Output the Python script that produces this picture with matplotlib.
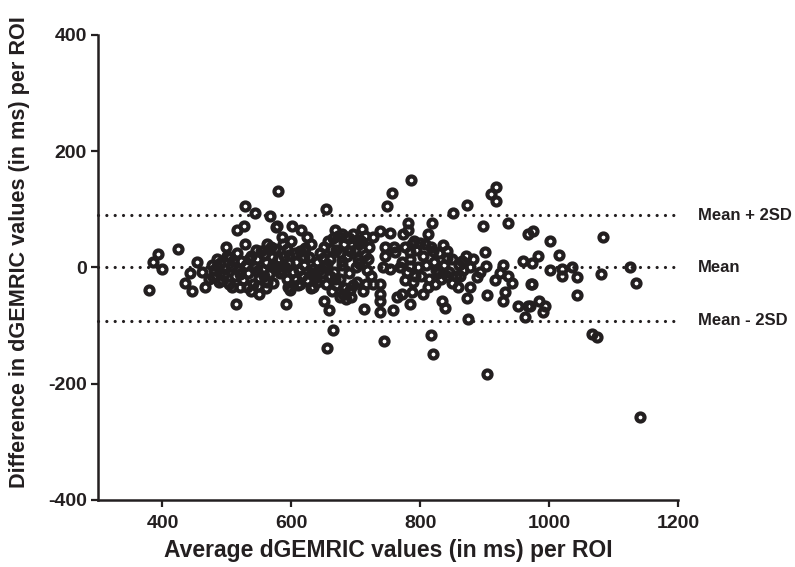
import matplotlib
matplotlib.use("Agg")
import matplotlib.pyplot as plt

plt.rcParams['font.family'] = ['Liberation Sans', 'DejaVu Sans']
plt.rcParams['font.weight'] = 'bold'
plt.rcParams['axes.unicode_minus'] = False

# isolated points (average, difference)
sparse_avg = [528, 544, 567, 516, 527, 393, 385, 399, 424, 379, 454, 443, 461, 435, 446, 466, 478, 477, 485, 499,
              528, 562, 576, 514, 550, 508, 520, 531, 579,
              756, 748, 654, 578, 601, 586, 615, 624, 668, 710, 727, 738, 753, 685, 702, 662, 575, 593, 621, 745,
              759, 745, 761, 649, 719, 742, 753, 769, 634, 634, 595, 613, 572, 727, 738, 738, 738, 738, 758, 764,
              592, 651, 658, 713, 665, 655, 744, 676, 691,
              786, 918, 910, 918, 873, 851, 781, 781, 773, 818, 897, 936, 967, 812, 787, 807, 835, 901, 784, 820,
              842, 865, 882, 902, 929, 960, 974, 784, 792, 776, 772, 787, 784, 804, 812, 823, 828, 842, 849, 859,
              862, 877, 873, 888, 893, 916, 924, 936, 942, 932, 929, 904, 972, 834, 839, 874, 952, 967, 963, 817,
              820, 904,
              975, 1001, 1084, 983, 1015, 1001, 1020, 1036, 1126, 1020, 1043, 1081, 1135, 973, 1043, 970, 984, 994,
              990, 1067, 1074, 1141]
sparse_diff = [105, 93, 88, 64, 71, 24, 10, -3, 31, -38, 9, -10, -7, -26, -41, -33, -17, 5, 14, 36,
               41, 40, 69, -62, -46, -33, -34, -33, 132,
               129, 105, 100, 71, 71, 52, 64, 53, 64, 67, 53, 62, 60, 52, 48, 31, 31, 31, 34, 36,
               36, 19, 26, 17, 14, 0, -2, 0, -9, -33, -33, -29, -26, -29, -29, -46, -58, -76, -74, -50,
               -62, -58, -74, -71, -107, -139, -126, -50, -38,
               150, 139, 127, 115, 107, 93, 76, 65, 57, 77, 71, 77, 57, 57, 41, 40, 38, 26, 26, 28,
               17, 12, 14, 3, 5, 12, 7, 2, -15, -21, -46, -43, -62, -45, -33, -29, -10, -15, -26, -33,
               -15, -34, -52, -17, -7, -21, -9, -15, -26, -43, -58, -48, -29, -58, -69, -88, -67, -67, -86, -117,
               -148, -184,
               62, 45, 52, 19, 22, -5, -2, 0, 0, -15, -17, -12, -26, -29, -48, -67, -58, -67,
               -76, -114, -120, -258]

# points inside the dense clusters (estimated)
cluster_avg = [472, 480, 488, 490, 495, 500, 503, 507, 512, 515, 518, 522, 525, 530, 533, 537, 540, 543, 547, 550,
               553, 556, 560, 563, 566, 570, 573, 548, 538, 560,
               580, 583, 587, 590, 594, 597, 600, 603, 607, 610, 614, 617, 620, 624, 627, 630, 633, 637, 640, 644,
               647, 650, 654, 657, 660, 663, 666, 669, 672, 675, 678, 681, 684, 687, 690, 693, 696, 699, 702, 705,
               708, 711, 714, 717, 720, 723, 690, 680, 670, 700, 685, 695, 676, 660, 640, 620, 605, 588, 612, 650,
               772, 776, 780, 784, 789, 793, 797, 801, 805, 809, 813, 817, 821, 825, 829, 833, 837, 841, 845, 850,
               855, 860, 866, 871, 877, 800, 790,
               545, 557, 568, 505, 492, 665, 678, 705, 715, 630, 598, 578,
               484, 497, 510, 521, 534, 546, 558, 571, 585, 596, 608, 619, 631, 643, 655, 667, 679, 691, 703, 716]
cluster_diff = [-20, -5, -25, 8, -12, 20, -28, 2, -15, 25, -5, 12, -22, 5, -10, 20, -28, 0, 15, -18,
                28, -5, 10, -25, -12, 18, 3, -32, -40, -35,
                15, -10, 40, 0, -20, 22, 45, -8, 10, -30, 28, -15, 5, -22, 18, 40, -3, -18, 10, 25,
                -10, 0, -28, 45, 15, -40, -8, 30, 55, -20, 5, 40, -35, 20, -10, -50, 58, 30, -25, 8,
                45, -40, 22, -5, 35, -15, 50, -45, -30, 0, -55, -30, 25, -15, -25, 30, 25, 20, -5, 35,
                10, 35, -8, 15, -25, 30, 0, -15, 20, 5, -20, 35, 10, -5, 25, -20, 5, 28, -8, 15,
                -15, 5, -5, 20, 0, 42, 45,
                30, 22, 35, 18, -22, 50, 58, 40, 55, -35, -38, 0,
                2, -2, 12, -12, 14, -6, -15, 6, -5, 8, -20, 18, -12, -4, 6, -20, 12, 28, 15, -28]

line_values = [90, 0, -92]
line_labels = ["Mean + 2SD", "Mean", "Mean - 2SD"]

ink = "#231f20"

fig = plt.figure(figsize=(7.95, 5.67), dpi=100)
ax = fig.add_axes([0.1233, 0.1182, 0.7295, 0.8201])

ax.plot(sparse_avg + cluster_avg, sparse_diff + cluster_diff, linestyle="none", marker="o",
        markersize=5.8, markeredgewidth=3.0, markerfacecolor="none", markeredgecolor=ink, clip_on=False)

for v, lab in zip(line_values, line_labels):
    ax.plot([300, 1200], [v, v], color=ink, linewidth=2.3, linestyle=(0, (0.01, 2.6)),
            dash_capstyle="round", clip_on=False)
    ax.text(1231, v, lab, fontsize=12, fontweight="bold", color=ink, va="center", ha="left")

ax.set_xlim(300, 1200)
ax.set_ylim(-400, 400)
ax.set_xticks([400, 600, 800, 1000, 1200])
ax.set_yticks([-400, -200, 0, 200, 400])

for s in ["top", "right"]:
    ax.spines[s].set_visible(False)
for s in ["left", "bottom"]:
    ax.spines[s].set_linewidth(1.8)
    ax.spines[s].set_color(ink)
ax.tick_params(width=1.6, length=5, color=ink, labelsize=14, labelcolor=ink)
ax.tick_params(axis="x", pad=6)
ax.tick_params(axis="y", pad=3)
for t in ax.get_xticklabels() + ax.get_yticklabels():
    t.set_fontweight("bold")

ax.set_xlabel("Average dGEMRIC values (in ms) per ROI", fontsize=16.5, fontweight="bold", color=ink, labelpad=5)
ax.set_ylabel("Difference in dGEMRIC values (in ms) per ROI", fontsize=15.6, fontweight="bold", color=ink)
ax.yaxis.set_label_coords(-0.117, 0.533)

fig.savefig("out.png", dpi=100)
